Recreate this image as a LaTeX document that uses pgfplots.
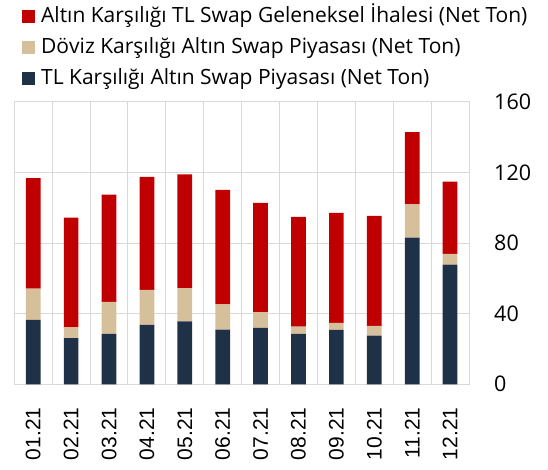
\documentclass[border=0pt]{standalone}
\usepackage{pgfplots}
\pgfplotsset{compat=1.18}
\usepackage{pgfplotstable}
\usepackage{fontspec}
\setmainfont{Open Sans}
\newfontfamily\arialfont{Liberation Sans}
\definecolor{cred}{RGB}{192,0,0}
\definecolor{ctan}{RGB}{214,192,156}
\definecolor{cnavy}{RGB}{31,49,71}
\definecolor{cgrid}{RGB}{217,217,217}
\definecolor{caxis}{RGB}{128,128,128}
\pgfplotstableread{
x navy tan red
0 36.5 17.6 62.6
1 26.1 6.2 62.1
2 28.6 18.1 60.7
3 33.7 19.8 63.9
4 35.6 18.9 64.3
5 31.0 14.2 64.9
6 32.0 8.9 61.8
7 28.6 4.1 62.1
8 30.8 4.0 62.2
9 27.6 5.5 62.2
10 83.0 18.9 40.9
11 67.7 6.2 40.9
}\datatable
\begin{document}
\begin{tikzpicture}
\path[use as bounding box] (0,0) rectangle (548pt,469pt);
\begin{axis}[
  at={(14.3pt,84.7pt)}, anchor=south west,
  scale only axis, width=454.7pt, height=282.6pt,
  ybar stacked, bar width=14.7pt,
  xmin=-0.5, xmax=11.5, ymin=0, ymax=160,
  xtick={0,...,11},
  xticklabels={01.21,02.21,03.21,04.21,05.21,06.21,07.21,08.21,09.21,10.21,11.21,12.21},
  xticklabel style={font=\arialfont\fontsize{21}{21}\selectfont, rotate=90, anchor=east, inner sep=0pt},
  xticklabel shift=23pt,
  minor xtick={0.5,1.5,...,10.5},
  xminorgrids, minor x grid style={cgrid, line width=1pt},
  minor tick length=0pt,
  ytick={0,40,80,120,160},
  yticklabel pos=right,
  yticklabel style={font=\fontsize{21.5}{21.5}\selectfont, anchor=west, inner sep=0pt, xshift=25pt},
  /pgf/number format/assume math mode=true,
  ymajorgrids, major grid style={cgrid, line width=1pt},
  extra y ticks={0}, extra y tick labels={},
  extra y tick style={grid style={caxis, line width=1.6pt}},
  axis line style={cgrid, line width=1pt},
  major tick length=0pt,
  xtick pos=bottom,
  reverse legend,
  legend cell align=left,
  legend image code/.code={\fill[#1] (0pt,-6pt) rectangle (13pt,7pt);},
  legend style={draw=none, fill=none, at={(axis description cs:0.0169,1.3386)}, anchor=north west,
    inner sep=0pt, font=\fontsize{21}{21}\selectfont, row sep=10pt,
    nodes={inner sep=0pt, text height=16pt, text depth=5pt},
    /tikz/every odd column/.append style={column sep=6pt}},
]
\addplot[fill=cnavy, draw=none] table[x=x, y=navy] {\datatable};
\addlegendentry{TL Karşılığı Altın Swap Piyasası (Net Ton)}
\addplot[fill=ctan, draw=none] table[x=x, y=tan] {\datatable};
\addlegendentry{Döviz Karşılığı Altın Swap Piyasası (Net Ton)}
\addplot[fill=cred, draw=none] table[x=x, y=red] {\datatable};
\addlegendentry{Altın Karşılığı TL Swap Geleneksel İhalesi (Net Ton)}
\end{axis}
\end{tikzpicture}
\end{document}
